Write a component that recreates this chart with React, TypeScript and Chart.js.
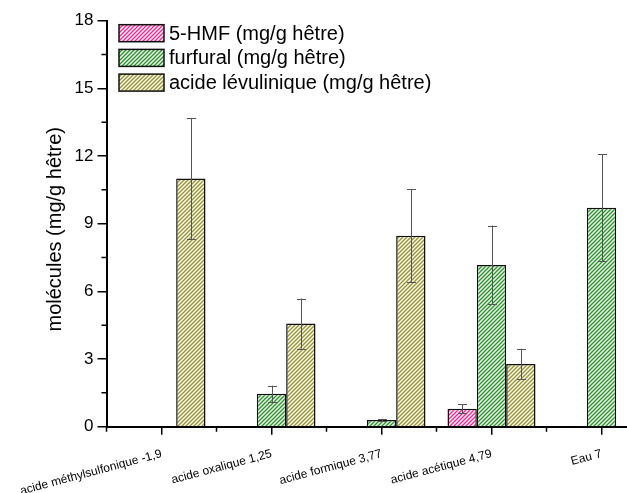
import React, { useEffect, useRef } from "react";
import { Chart, registerables } from "chart.js";

Chart.register(...registerables);

const categories = [
  "acide méthylsulfonique -1,9",
  "acide oxalique 1,25",
  "acide formique 3,77",
  "acide acétique 4,79",
  "Eau 7",
];
const seriesNames = [
  "5-HMF (mg/g hêtre)",
  "furfural (mg/g hêtre)",
  "acide lévulinique (mg/g hêtre)",
];
const hmf = [null, null, null, 0.8, null];
const hmfErr = [null, null, null, 0.2, null];
const furfural = [null, 1.46, 0.3, 7.17, 9.71];
const furfuralErr = [null, 0.36, 0.05, 1.75, 2.36];
const levulinic = [11.0, 4.57, 8.47, 2.78, null];
const levulinicErr = [2.68, 1.11, 2.05, 0.68, null];
const yMin = 0;
const yMax = 18;
const yStep = 3;
const yTitle = "molécules (mg/g hêtre)";

const colors = ["#ff1f96", "#1e9a1e", "#9c9428"];
const FONT = "'Liberation Sans', Arial, sans-serif";

function hatch(color: string) {
  const s = 4;
  const c = document.createElement("canvas");
  c.width = s;
  c.height = s;
  const g = c.getContext("2d")!;
  g.fillStyle = "#fff";
  g.fillRect(0, 0, s, s);
  g.strokeStyle = color;
  g.lineWidth = 1.4;
  g.beginPath();
  g.moveTo(0, s);
  g.lineTo(s, 0);
  g.moveTo(-1, 1);
  g.lineTo(1, -1);
  g.moveTo(s - 1, s + 1);
  g.lineTo(s + 1, s - 1);
  g.stroke();
  return g.createPattern(c, "repeat")!;
}

const errors = [hmfErr, furfuralErr, levulinicErr];

const errorBarPlugin = {
  id: "errorBars",
  afterDatasetsDraw(chart: any) {
    const ctx = chart.ctx;
    const y = chart.scales.y;
    ctx.save();
    ctx.strokeStyle = "#555";
    ctx.lineWidth = 1;
    chart.data.datasets.forEach((ds: any, i: number) => {
      const meta = chart.getDatasetMeta(i);
      meta.data.forEach((el: any, j: number) => {
        const v = ds.data[j];
        const e = errors[i][j];
        if (v == null || e == null) return;
        const x = Math.round(el.x) + 0.5;
        const y1 = y.getPixelForValue(v + e);
        const y2 = y.getPixelForValue(v - e);
        ctx.beginPath();
        ctx.moveTo(x, y1);
        ctx.lineTo(x, y2);
        ctx.moveTo(x - 4.5, Math.round(y1) + 0.5);
        ctx.lineTo(x + 4.5, Math.round(y1) + 0.5);
        ctx.moveTo(x - 4.5, Math.round(y2) + 0.5);
        ctx.lineTo(x + 4.5, Math.round(y2) + 0.5);
        ctx.stroke();
      });
    });
    ctx.restore();
  },
};

const minorTicksPlugin = {
  id: "minorTicks",
  afterDraw(chart: any) {
    const ctx = chart.ctx;
    const xs = chart.scales.x;
    const ys = chart.scales.y;
    const area = chart.chartArea;
    ctx.save();
    ctx.strokeStyle = "#000";
    ctx.lineWidth = 1.5;
    const half = (xs.getPixelForValue(1) - xs.getPixelForValue(0)) / 2;
    ctx.beginPath();
    for (let i = 0; i <= categories.length; i++) {
      const px = xs.getPixelForValue(i) - half;
      ctx.moveTo(px, area.bottom);
      ctx.lineTo(px, area.bottom + 5);
    }
    for (let v = yMin + yStep / 2; v < yMax; v += yStep) {
      const py = ys.getPixelForValue(v);
      ctx.moveTo(area.left - 5, py);
      ctx.lineTo(area.left, py);
    }
    ctx.stroke();
    ctx.restore();
  },
};

const legendPlugin = {
  id: "hatchLegend",
  afterDraw(chart: any) {
    const ctx = chart.ctx;
    const area = chart.chartArea;
    ctx.save();
    const bx = area.left + 12.5;
    const by = area.top + 4;
    const bw = 45;
    const bh = 17;
    const gap = 24.7;
    chart.data.datasets.forEach((ds: any, i: number) => {
      const top = by + i * gap;
      ctx.fillStyle = ds.backgroundColor;
      ctx.fillRect(bx, top, bw, bh);
      ctx.strokeStyle = "#111";
      ctx.lineWidth = 1.5;
      ctx.strokeRect(bx, top, bw, bh);
      ctx.fillStyle = "#000";
      ctx.font = `20px ${FONT}`;
      ctx.textBaseline = "middle";
      ctx.textAlign = "left";
      ctx.fillText(ds.label, bx + bw + 5, top + bh / 2 + 1);
    });
    ctx.restore();
  },
};

export default function App() {
  const ref = useRef<HTMLCanvasElement>(null);
  useEffect(() => {
    const patterns = colors.map(hatch);
    const chart = new Chart(ref.current!, {
      type: "bar",
      data: {
        labels: categories,
        datasets: [hmf, furfural, levulinic].map((d, i) => ({
          label: seriesNames[i],
          data: d as any,
          backgroundColor: patterns[i] as any,
          borderColor: "#111",
          borderWidth: 1.5,
          categoryPercentage: 0.8,
          barPercentage: 1.0,
        })),
      },
      options: {
        animation: false,
        responsive: false,
        devicePixelRatio: 1,
        layout: { padding: { left: 0, top: 20.7, right: 23.5, bottom: 0 } },
        plugins: {
          legend: { display: false },
          tooltip: { enabled: false },
        },
        scales: {
          x: {
            afterFit(scale: any) {
              scale.height = 66.3;
              scale.paddingLeft = 0;
              scale.paddingRight = 0;
            },
            grid: {
              offset: false,
              drawOnChartArea: false,
              color: "#000",
              lineWidth: 1.5,
              tickLength: 8,
            },
            border: { color: "#000", width: 2 },
            ticks: {
              autoSkip: false,
              minRotation: 15,
              maxRotation: 15,
              padding: 12,
              color: "#000",
              font: { family: FONT, size: 12 },
            },
          },
          y: {
            min: yMin,
            max: yMax,
            afterFit(scale: any) {
              scale.width = 106.5;
            },
            grid: {
              drawOnChartArea: false,
              color: "#000",
              lineWidth: 1.5,
              tickLength: 9,
            },
            border: { color: "#000", width: 2 },
            ticks: {
              stepSize: yStep,
              padding: 4,
              color: "#000",
              font: { family: FONT, size: 17 },
            },
            title: {
              display: true,
              text: yTitle + "  ",
              color: "#000",
              font: { family: FONT, size: 20 },
              padding: { top: 43, bottom: 0 },
            },
          },
        },
      },
      plugins: [errorBarPlugin, minorTicksPlugin, legendPlugin],
    });
    return () => chart.destroy();
  }, []);
  return (
    <div
      style={{
        position: "fixed",
        left: 0,
        top: 0,
        width: 627,
        height: 493,
        overflow: "hidden",
        background: "#fff",
      }}
    >
      <canvas ref={ref} width={680} height={493} style={{ display: "block" }} />
    </div>
  );
}
